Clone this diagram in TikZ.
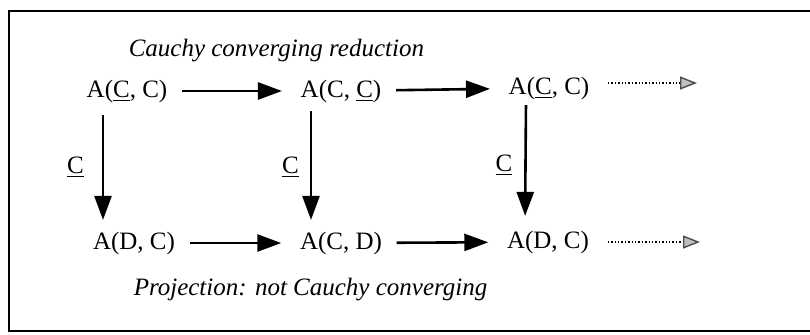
\documentclass[tikz,border=0pt]{standalone}
\usepackage{fontspec}
\setmainfont{Liberation Serif}
\usetikzlibrary{positioning,arrows.meta}
\tikzset{every picture/.style={line width=0.75pt}}

\begin{document}
\begin{tikzpicture}[x=0.5pt, y=-0.5pt,
        every node/.style={font=\fontsize{12.5}{15}\selectfont, inner sep=1pt},
        arr/.style={-{Triangle[length=12pt, width=8.5pt]}, line width=1.3pt},
        harr/.style={arr, shorten <=6pt, shorten >=8pt},
        dotarr/.style={dash pattern=on 0.7pt off 1pt, line width=0.7pt, shorten <=8pt,
            -{Triangle[length=8.5pt, width=6.5pt, color=gray!60!black, fill=gray!50]}}]
        \useasboundingbox (0, 0) rectangle (810, 334);
        \draw[line width=1.4pt] (816, 11) -- (9, 11) -- (9, 331) -- (816, 331);
        % top row
        \node (n11) at (127, 91) {A(\underline{C}, C)};
        \node (n12) at (341, 91) {A(C, \underline{C})};
        \node (n13) at (549, 88) {A(\underline{C}, C)};
        % bottom row
        \node (n21) at (134, 243) {A(D, C)};
        \node (n22) at (341, 243) {A(C, D)};
        \node (n23) at (548, 242) {A(D, C)};
        \coordinate (e1) at (697, 83);
        \coordinate (e2) at (700, 242);
        \node[font=\fontsize{12.5}{15}\selectfont\itshape, anchor=west] (top) at (126, 51) {Cauchy converging reduction};
        \node[font=\fontsize{12.5}{15}\selectfont\itshape, anchor=west] (bot) at (131, 290) {Projection: not Cauchy converging};
        \draw[harr] (n11) -- (n12);
        \draw[harr] (n12) -- (n13);
        \draw[harr] (n21) -- (n22);
        \draw[harr] (n22) -- (n23);
        \draw[dotarr] ([yshift=2.5pt]n13.east) -- (e1);
        \draw[dotarr] (n23.east) -- (e2);
        % projections
        \draw[arr, shorten <=5pt, shorten >=4.5pt] ([xshift=-12pt]n11.south) -- node[left=8pt] {\underline{C}} ([xshift=-15.5pt]n21.north);
        \draw[arr, shorten <=3pt, shorten >=4.5pt] ([xshift=-15pt]n12.south) -- node[left=4.5pt] {\underline{C}} ([xshift=-15pt]n22.north);
        \draw[arr, shorten <=1.5pt, shorten >=6pt] ([xshift=-11.5pt]n13.south) -- node[left=5pt] {\underline{C}} ([xshift=-11.5pt]n23.north);
    \end{tikzpicture}
\end{document}
